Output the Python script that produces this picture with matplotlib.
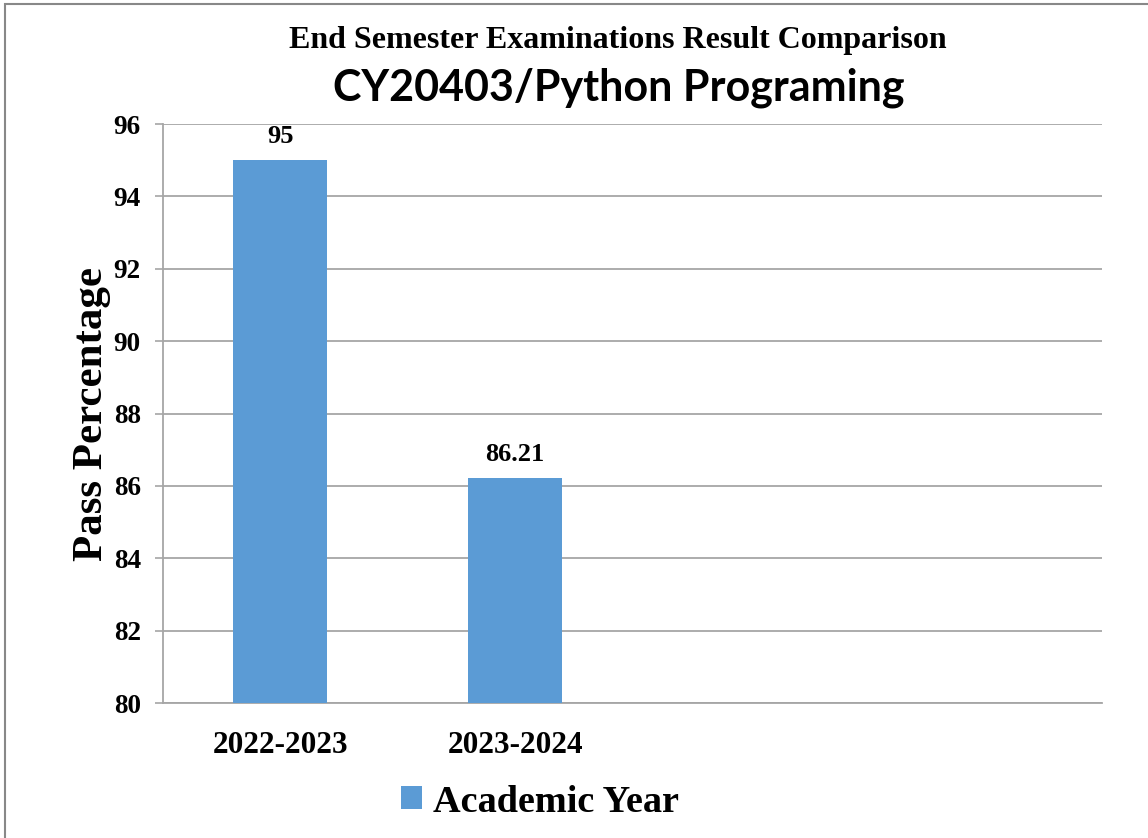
import matplotlib.pyplot as plt
from matplotlib.patches import Rectangle

years = ['2022-2023', '2023-2024', '', '']
pass_pct = [95, 86.21, None, None]
y_ticks = [80, 82, 84, 86, 88, 90, 92, 94, 96]

serif = 'Liberation Serif'
grid_col = '#a6a6a6'
bar_col = '#5b9bd5'

fig = plt.figure(figsize=(11.48, 8.38), dpi=100)
ax = fig.add_axes([163/1148, 1 - 703/838, (1102 - 163)/1148, (703 - 124)/838])

xs = [i for i, v in enumerate(pass_pct) if v is not None]
vals = [v for v in pass_pct if v is not None]
bars = ax.bar(xs, vals, width=0.4, color=bar_col, zorder=3, label='Academic Year')

for x, v in zip(xs, vals):
    ax.annotate(f'{v:g}', (x, v), xytext=(0, 9), textcoords='offset points',
                ha='center', va='bottom', fontsize=19, fontweight='bold', family=serif)

ax.set_xlim(-0.5, len(years) - 0.5)
ax.set_ylim(80, 96)
ax.set_yticks(y_ticks)
ax.set_xticks(range(len(years)))
ax.set_xticklabels(years, fontsize=22.5, fontweight='bold', family=serif)
ax.tick_params(axis='x', length=0, pad=20)
ax.tick_params(axis='y', length=6, width=1.2, color=grid_col, pad=10, labelsize=19.5)
for lab in ax.get_yticklabels():
    lab.set_fontweight('bold')
    lab.set_family(serif)

ax.grid(axis='y', color=grid_col, linewidth=1.3, zorder=0)
for s in ['top', 'right']:
    ax.spines[s].set_visible(False)
for s in ['left', 'bottom']:
    ax.spines[s].set_color(grid_col)
    ax.spines[s].set_linewidth(1.3)

ax.set_ylabel('Pass Percentage', fontsize=31, fontweight='bold', family=serif, labelpad=2)

fig.text(618/1148, 1 - 48/838, 'End Semester Examinations Result Comparison',
         ha='center', va='baseline', fontsize=23, fontweight='bold', family=serif)
fig.text(619/1148, 1 - 100/838, 'CY20403/Python Programing',
         ha='center', va='baseline', fontsize=31, fontweight='bold', family='Lato')

fig.legend(handles=[bars], labels=['Academic Year'], loc='center',
           bbox_to_anchor=(540/1148, 1 - 802/838), frameon=False,
           prop={'family': serif, 'weight': 'bold', 'size': 27.5},
           handlelength=0.55, handleheight=0.55, handletextpad=0.3)

fig.patches.append(Rectangle((5/1148, -0.1), 1.2, 1 - 4/838 + 0.1, transform=fig.transFigure,
                             fill=False, edgecolor='#888888', linewidth=1.5))

fig.savefig('out.png', dpi=100)
